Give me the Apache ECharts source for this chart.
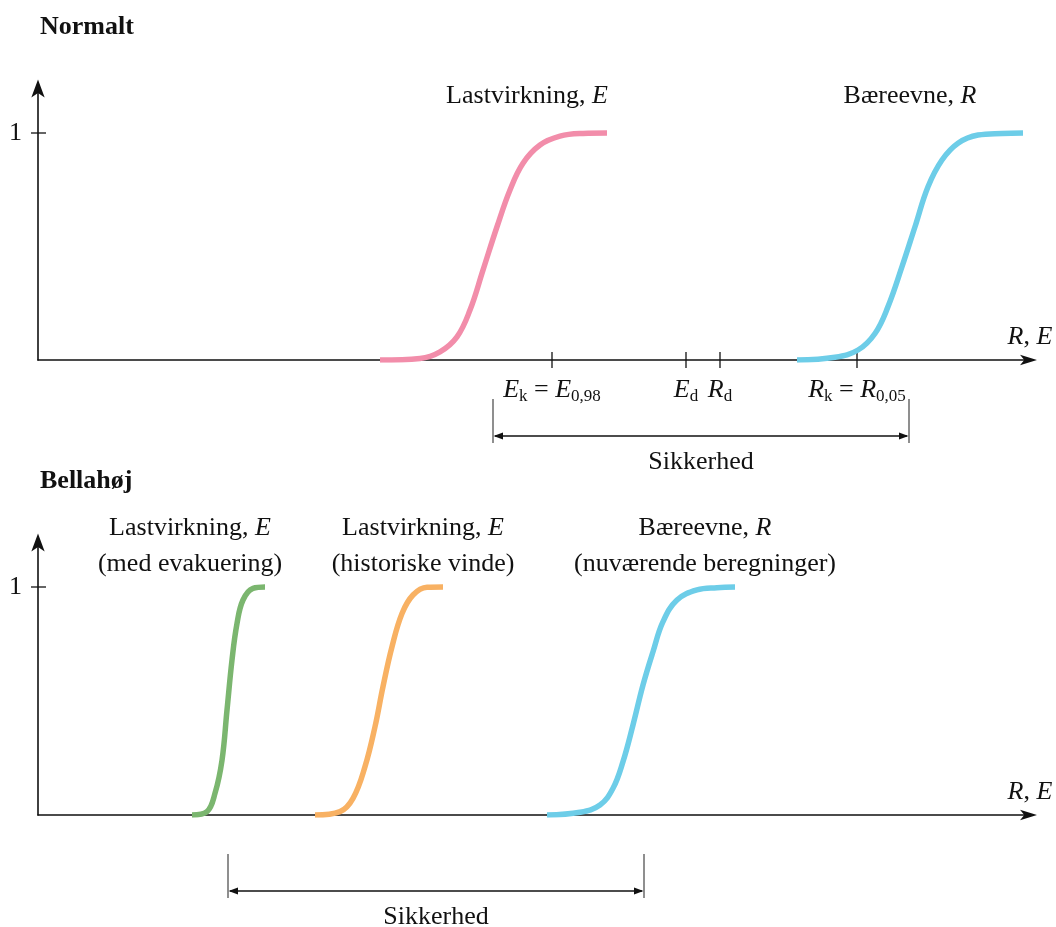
<!DOCTYPE html>
<html><head><meta charset="utf-8">
<script src="https://cdn.jsdelivr.net/npm/echarts@6/dist/echarts.min.js"></script>
<style>html,body{margin:0;padding:0;background:#fff}#c{width:1056px;height:927px}</style>
</head><body><div id="c"></div>
<script>
const SERIF = '"Liberation Serif","Times New Roman",serif';

// ---- Data (x in arbitrary R,E units, y = cumulative probability) ----
// Top panel: "Normalt"
const topLoadX = [34.2, 38.2, 40.2, 41.9, 43.2, 44.5, 45.9, 47.2, 48.5, 50.2, 52.2, 54.5, 56.9];
const topLoadY = [0, 0.007, 0.036, 0.102, 0.22, 0.396, 0.587, 0.749, 0.867, 0.947, 0.986, 0.998, 1.0];
const topResX  = [75.9, 79.7, 82.0, 83.7, 85.0, 86.4, 87.7, 89.0, 90.4, 92.0, 94.0, 96.4, 98.5];
const topResY  = [0, 0.012, 0.044, 0.117, 0.235, 0.411, 0.587, 0.763, 0.881, 0.955, 0.991, 0.998, 1.0];
// Bottom panel: "Bellahøj"
const botEvacX = [15.4, 16.9, 17.7, 18.4, 18.9, 19.4, 19.9, 20.5, 21.5, 22.7];
const botEvacY = [0, 0.015, 0.095, 0.24, 0.46, 0.68, 0.84, 0.943, 0.994, 1.0];
const botHistX = [27.7, 30.2, 31.5, 32.7, 33.7, 34.5, 35.4, 36.4, 37.5, 38.9, 40.5];
const botHistY = [0, 0.015, 0.073, 0.212, 0.387, 0.563, 0.738, 0.884, 0.965, 0.999, 1.0];
const botResX  = [50.9, 54.2, 56.2, 57.5, 58.5, 59.5, 60.5, 61.5, 62.5, 63.9, 65.9, 67.9, 69.7];
const botResY  = [0, 0.012, 0.044, 0.117, 0.234, 0.395, 0.570, 0.716, 0.848, 0.943, 0.987, 0.997, 1.0];

const topTickValues = [51.4, 64.8, 68.2, 81.9];
const topTickLabels = ['{e|E}{s|k}{t| = }{e|E}{s|0,98}', '{e|E}{s|d}', '{e|R}{s|d}', '{e|R}{s|k}{t| = }{e|R}{s|0,05}'];
const yTickValues = [1];
const topSafety = [45.5, 87.1];
const botSafety = [19.0, 60.6];
const safetyLabel = 'Sikkerhed';
const panelTitles = ['Normalt', 'Bellahøj'];
const axisNameText = '{i|R}, {i|E}';
const topCurveLabels = ['Lastvirkning, {i|E}', 'Bæreevne, {i|R}'];
const botCurveLabels = [
  'Lastvirkning, {i|E}\n(med evakuering)',
  'Lastvirkning, {i|E}\n(historiske vinde)',
  'Bæreevne, {i|R}\n(nuværende beregninger)'
];

const INK = '#111';
const zip = (xs, ys) => xs.map((x, i) => [x, ys[i]]);

const nameRich = { i: { fontFamily: SERIF, fontSize: 26, fontStyle: 'italic', color: INK } };
const tickRich = {
  e: { fontFamily: SERIF, fontSize: 26, fontStyle: 'italic', lineHeight: 30, color: INK },
  t: { fontFamily: SERIF, fontSize: 26, lineHeight: 30, color: INK },
  s: { fontFamily: SERIF, fontSize: 17, lineHeight: 14, verticalAlign: 'bottom', color: INK }
};

function makeXAxis(idx, withLabels) {
  return {
    type: 'value', gridIndex: idx, min: 0, max: 99,
    axisLine: { show: true, onZero: false, lineStyle: { color: '#111', width: 1.6 },
      symbol: ['none', 'arrow'], symbolSize: [8, 17], symbolOffset: [0, 9] },
    axisTick: { show: false },
    splitLine: { show: false },
    axisLabel: withLabels ? {
      show: true, customValues: topTickValues, margin: 15,
      formatter: v => { const i = topTickValues.findIndex(t => Math.abs(t - v) < 1e-6); return i >= 0 ? topTickLabels[i] : ''; },
      rich: tickRich
    } : { show: false },
    name: axisNameText, nameLocation: 'end', nameGap: 2,
    nameTextStyle: { fontFamily: SERIF, fontSize: 26, color: INK, align: 'center', verticalAlign: 'bottom',
      padding: [0, 0, 10, 0], rich: nameRich }
  };
}
function makeYAxis(idx) {
  return {
    type: 'value', gridIndex: idx, min: 0, max: 1.2,
    axisLine: { show: true, lineStyle: { color: '#111', width: 1.6 },
      symbol: ['none', 'arrow'], symbolSize: [10, 18], symbolOffset: [0, 8] },
    axisTick: { show: false },
    splitLine: { show: false },
    axisLabel: { show: true, customValues: yTickValues, margin: 16,
      fontFamily: SERIF, fontSize: 26, color: INK }
  };
}

function tickRender(params, api) {
  const x = api.value(0), y = api.value(1), dir = api.value(2);
  const p = api.coord([x, y]);
  const shape = dir === 0
    ? { x1: p[0], y1: p[1] - 8, x2: p[0], y2: p[1] + 8 }
    : { x1: p[0] - 7, y1: p[1], x2: p[0] + 8, y2: p[1] };
  return { type: 'line', shape, style: { stroke: '#111', lineWidth: 1.3 } };
}
function bracketRender(params, api) {
  const a = api.coord([api.value(0), 0]), b = api.coord([api.value(1), 0]);
  const y0 = a[1];
  const yTop = y0 + 39, yBot = y0 + 83, yArr = y0 + 76, yTxt = y0 + 102;
  const st = { stroke: '#333', lineWidth: 1.1 };
  return { type: 'group', children: [
    { type: 'line', shape: { x1: a[0], y1: yTop, x2: a[0], y2: yBot }, style: st },
    { type: 'line', shape: { x1: b[0], y1: yTop, x2: b[0], y2: yBot }, style: st },
    { type: 'line', shape: { x1: a[0] + 2, y1: yArr, x2: b[0] - 2, y2: yArr }, style: { stroke: '#111', lineWidth: 1.4 } },
    { type: 'polygon', shape: { points: [[a[0] + 0.5, yArr], [a[0] + 10, yArr - 3.5], [a[0] + 10, yArr + 3.5]] }, style: { fill: '#111' } },
    { type: 'polygon', shape: { points: [[b[0] - 0.5, yArr], [b[0] - 10, yArr - 3.5], [b[0] - 10, yArr + 3.5]] }, style: { fill: '#111' } },
    { type: 'text', style: { text: safetyLabel, x: (a[0] + b[0]) / 2, y: yTxt, align: 'center', verticalAlign: 'middle',
      font: '26px ' + SERIF, fill: INK } }
  ] };
}

function curve(name, xs, ys, color, gi) {
  return { type: 'line', name, xAxisIndex: gi, yAxisIndex: gi, data: zip(xs, ys),
    smooth: 0.4, showSymbol: false, symbol: 'none', silent: true,
    lineStyle: { color, width: 5.5 }, z: 3 };
}

const labelRich = {
  i: { fontFamily: SERIF, fontSize: 26, fontStyle: 'italic', lineHeight: 36, fill: INK, color: INK },
};
function textEl(text, x, y, opts) {
  return { type: 'text', x, y, style: Object.assign({ text, font: '26px ' + SERIF, fill: INK,
    align: 'center', verticalAlign: 'middle', lineHeight: 36, rich: labelRich }, opts || {}) };
}

const chart = echarts.init(document.getElementById('c'), null, { renderer: 'canvas' });
chart.setOption({
  animation: false,
  backgroundColor: '#fff',
  grid: [
    { left: 38, top: 87.6, width: 990, height: 272.4 },
    { left: 38, top: 541.4, width: 990, height: 273.6 }
  ],
  xAxis: [makeXAxis(0, true), makeXAxis(1, false)],
  yAxis: [makeYAxis(0), makeYAxis(1)],
  series: [
    curve('Lastvirkning, E', topLoadX, topLoadY, '#F28DAA', 0),
    curve('Bæreevne, R', topResX, topResY, '#6DCDE8', 0),
    curve('Lastvirkning, E (med evakuering)', botEvacX, botEvacY, '#7BB66F', 1),
    curve('Lastvirkning, E (historiske vinde)', botHistX, botHistY, '#F8B163', 1),
    curve('Bæreevne, R (nuværende beregninger)', botResX, botResY, '#6DCDE8', 1),
    { type: 'custom', xAxisIndex: 0, yAxisIndex: 0, clip: false, silent: true, renderItem: tickRender,
      data: topTickValues.map(v => [v, 0, 0]).concat(yTickValues.map(v => [0, v, 1])) },
    { type: 'custom', xAxisIndex: 1, yAxisIndex: 1, clip: false, silent: true, renderItem: tickRender,
      data: yTickValues.map(v => [0, v, 1]) },
    { type: 'custom', xAxisIndex: 0, yAxisIndex: 0, clip: false, silent: true, renderItem: bracketRender,
      data: [topSafety] },
    { type: 'custom', xAxisIndex: 1, yAxisIndex: 1, clip: false, silent: true, renderItem: bracketRender,
      data: [botSafety] }
  ],
  graphic: [
    textEl(panelTitles[0], 40, 27, { font: 'bold 26px ' + SERIF, align: 'left' }),
    textEl(panelTitles[1], 40, 481, { font: 'bold 26px ' + SERIF, align: 'left' }),
    textEl(topCurveLabels[0], 527, 96),
    textEl(topCurveLabels[1], 910, 96),
    textEl(botCurveLabels[0], 190, 546),
    textEl(botCurveLabels[1], 423, 546),
    textEl(botCurveLabels[2], 705, 546)
  ]
});
</script></body></html>
